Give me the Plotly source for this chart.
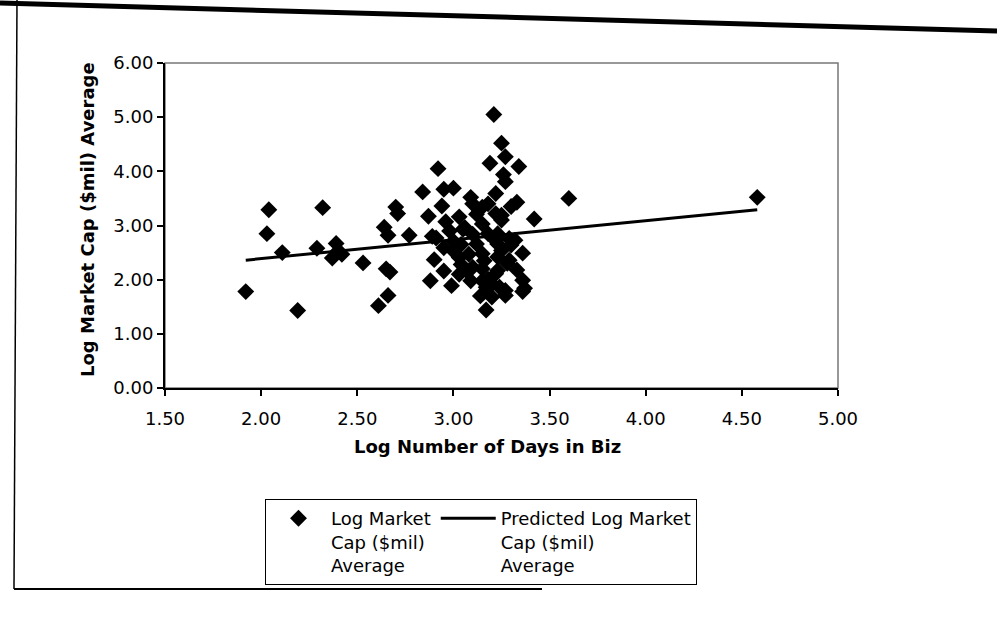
import plotly.graph_objects as go

# Log of number of days in business vs. log of average market cap ($mil)
log_days = [
    1.92, 2.04, 2.03, 2.11, 2.19, 2.32, 2.29, 2.39, 2.37, 2.42,
    2.40, 2.53, 2.61, 2.66, 2.65, 2.67, 2.64, 2.66, 2.70, 2.71,
    2.77, 2.84, 2.92, 2.95, 3.00, 2.87, 2.94, 2.96, 2.89, 2.90,
    2.95, 2.88, 2.99, 2.91, 2.95, 2.98, 3.03, 3.06, 3.10, 3.12,
    3.15, 3.10, 3.04, 3.00, 3.08, 3.12, 3.15, 3.18, 3.23, 3.22,
    3.25, 3.30, 3.23, 3.25, 3.29, 3.32, 3.36, 3.23, 3.29, 3.04,
    3.10, 3.15, 3.03, 3.09, 3.15, 3.14, 3.20, 3.24, 3.27, 3.22,
    3.33, 3.36, 3.37, 3.17, 3.00, 3.03, 3.07, 3.16, 3.22, 3.30,
    3.28, 3.23, 3.18, 3.17, 3.20, 3.27, 3.36, 3.05, 3.09, 3.22,
    3.21, 3.25, 3.27, 3.19, 3.34, 3.26, 3.27, 3.33, 3.42, 3.60,
    4.58, 3.15, 3.18, 3.25,
]
log_mcap = [
    1.78, 3.29, 2.85, 2.50, 1.43, 3.33, 2.58, 2.67, 2.40, 2.47,
    2.53, 2.31, 1.52, 1.71, 2.20, 2.14, 2.97, 2.82, 3.34, 3.22,
    2.82, 3.62, 4.05, 3.67, 3.69, 3.17, 3.36, 3.07, 2.80, 2.37,
    2.16, 1.98, 1.89, 2.77, 2.59, 2.90, 3.16, 2.96, 3.40, 3.21,
    3.03, 2.84, 2.65, 2.53, 2.47, 2.66, 2.48, 2.85, 2.85, 3.22,
    3.10, 3.35, 2.66, 2.54, 2.76, 2.73, 2.49, 2.42, 2.36, 2.28,
    2.23, 2.20, 2.10, 1.98, 1.98, 1.70, 1.92, 1.86, 1.71, 2.11,
    2.18, 1.99, 1.84, 1.44, 2.71, 2.41, 2.16, 2.35, 2.72, 2.64,
    2.30, 2.17, 2.01, 1.86, 1.68, 1.80, 1.78, 2.93, 3.52, 3.59,
    5.05, 4.52, 4.27, 4.15, 4.09, 3.94, 3.81, 3.43, 3.12, 3.50,
    3.52, 3.34, 3.40, 3.19,
]

# Fitted (predicted) log market cap at the ends of the observed range
pred_days = [1.92, 4.58]
pred_mcap = [2.36, 3.29]

x_ticks = [1.50, 2.00, 2.50, 3.00, 3.50, 4.00, 4.50, 5.00]
y_ticks = [0.00, 1.00, 2.00, 3.00, 4.00, 5.00, 6.00]

FONT = "DejaVu Sans"
INK = "black"

# plot area in page pixels
L, R, T, B = 165, 838, 63, 388
W, H = 997, 618


def px(xp, yp):
    """Page pixel -> paper coordinates."""
    return (xp - L) / (R - L), (B - yp) / (B - T)


fig = go.Figure()
fig.add_trace(go.Scatter(
    x=log_days, y=log_mcap, mode="markers",
    name="Log Market<br>Cap ($mil)<br>Average",
    marker=dict(symbol="diamond", size=13, color=INK, line=dict(width=0)),
))
fig.add_trace(go.Scatter(
    x=pred_days, y=pred_mcap, mode="lines",
    name="Predicted Log Market<br>Cap ($mil)<br>Average",
    line=dict(color=INK, width=3),
))

tick_font = dict(family=FONT, size=18, color=INK)
axis_common = dict(
    showgrid=False, zeroline=False, showline=True, linecolor=INK, linewidth=2,
    ticks="outside", ticklen=6, tickwidth=1.5, tickcolor=INK, tickfont=tick_font,
)

shapes = []
# light plot-area frame (top and right show as thin grey rules)
shapes.append(dict(type="rect", xref="paper", yref="paper", x0=0, y0=0, x1=1, y1=1,
                   line=dict(color="#777777", width=1.5), layer="below"))
# chart-area border and page rule
for (a, b, w) in [((17, 0), (14, 589), 1.5), ((14, 589), (542, 589), 2), ((0, 3), (997, 31), 5)]:
    x0, y0 = px(*a)
    x1, y1 = px(*b)
    shapes.append(dict(type="line", xref="paper", yref="paper", x0=x0, y0=y0, x1=x1, y1=y1,
                       line=dict(color=INK, width=w)))

xt_x, xt_y = px(487, 446)
yt_x, yt_y = px(87, 220)
lg_x, lg_y = px(265, 499)

fig.update_layout(
    width=W, height=H,
    margin=dict(l=L, r=W - R, t=T, b=H - B, pad=0),
    paper_bgcolor="white", plot_bgcolor="white",
    font=dict(family=FONT, color=INK),
    xaxis=dict(range=[1.5, 5.0], tickvals=x_ticks, ticktext=[f"{v:.2f}" for v in x_ticks],
               ticklabelstandoff=7, **axis_common),
    yaxis=dict(range=[0, 6], tickvals=y_ticks, ticktext=[f"{v:.2f}" for v in y_ticks], **axis_common),
    # companion axes carry the inner half of the cross ticks
    xaxis2=dict(overlaying="x", anchor="y", side="bottom", range=[1.5, 5.0], tickvals=x_ticks,
                showticklabels=False, ticks="inside", ticklen=6, tickwidth=1.5, tickcolor=INK,
                showgrid=False, zeroline=False, showline=False),
    yaxis2=dict(overlaying="y", anchor="x", side="left", range=[0, 6], tickvals=y_ticks,
                showticklabels=False, ticks="inside", ticklen=6, tickwidth=1.5, tickcolor=INK,
                showgrid=False, zeroline=False, showline=False),
    showlegend=True,
    legend=dict(
        orientation="h", x=lg_x, y=lg_y, xanchor="left", yanchor="top",
        bordercolor=INK, borderwidth=1, bgcolor="white",
        font=dict(family=FONT, size=18, color=INK), valign="top",
        itemwidth=55, traceorder="normal",
    ),
    annotations=[
        dict(text="<b>Log Number of Days in Biz</b>", xref="paper", yref="paper", x=xt_x, y=xt_y,
             xanchor="center", yanchor="middle", showarrow=False, font=dict(family=FONT, size=18, color=INK)),
        dict(text="<b>Log Market Cap ($mil) Average</b>", xref="paper", yref="paper", x=yt_x, y=yt_y,
             xanchor="center", yanchor="middle", textangle=-90, showarrow=False,
             font=dict(family=FONT, size=18, color=INK)),
    ],
    shapes=shapes,
)

fig.write_html("out.html")
